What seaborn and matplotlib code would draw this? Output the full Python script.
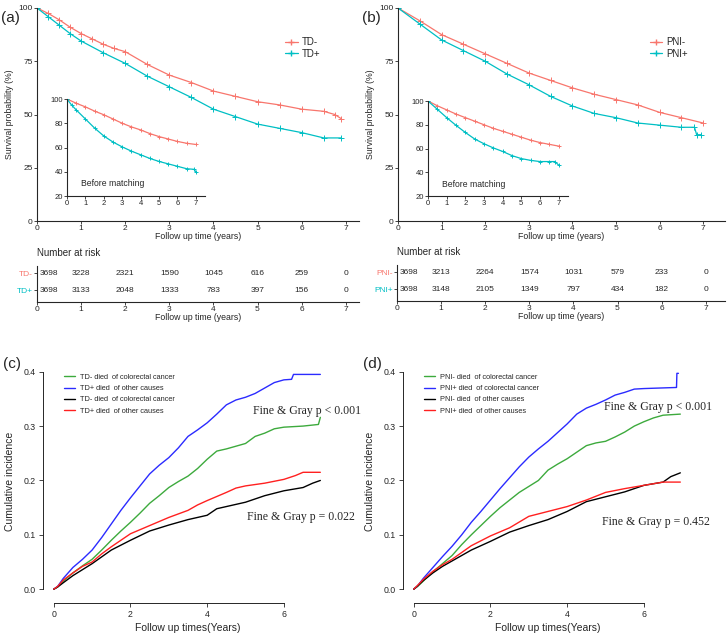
import numpy as np
import pandas as pd
import matplotlib
matplotlib.use('Agg')
import matplotlib.pyplot as plt
from matplotlib.lines import Line2D
import seaborn as sns

sns.set_style('ticks')
plt.rcParams['font.family'] = ['Liberation Sans', 'DejaVu Sans']

# =====================================================
# DATA
# =====================================================

KM_RED = '#F8766D'
KM_TEAL = '#00BFC4'

# (a) TD, after matching
td_neg_t = [0, 0.25, 0.5, 0.75, 1, 1.25, 1.5, 1.75, 2, 2.5, 3, 3.5, 4, 4.5, 5, 5.5, 6, 6.5, 6.75, 6.9]
td_neg_s = [100, 97.5, 94.5, 91, 88, 85.5, 83, 81, 79.5, 73.5, 68.5, 65, 61, 58.5, 56, 54.5, 52.5, 51.5, 50, 48]
td_pos_t = [0, 0.25, 0.5, 0.75, 1, 1.5, 2, 2.5, 3, 3.5, 4, 4.5, 5, 5.5, 6, 6.5, 6.9]
td_pos_s = [100, 96, 92, 88, 84.5, 79, 74, 68, 63, 58, 52.5, 49, 45.5, 43.5, 41.5, 39, 39]

# (a) TD, before matching (inset)
td_neg_pre_t = [0, 0.5, 1, 1.5, 2, 2.5, 3, 3.5, 4, 4.5, 5, 5.5, 6, 6.5, 7]
td_neg_pre_s = [100, 96.5, 93.5, 90, 87, 83.5, 80, 77, 74.5, 71.5, 69, 67, 65, 63.5, 62.5]
td_pos_pre_t = [0, 0.25, 0.5, 1, 1.5, 2, 2.5, 3, 3.5, 4, 4.5, 5, 5.5, 6, 6.5, 6.9, 7]
td_pos_pre_s = [100, 95, 91, 83.5, 76, 69.5, 64.5, 60.5, 57, 54, 51, 48.5, 46.5, 44.5, 42.5, 42, 40]

# (b) PNI, after matching
pni_neg_t = [0, 0.5, 1, 1.5, 2, 2.5, 3, 3.5, 4, 4.5, 5, 5.5, 6, 6.5, 7]
pni_neg_s = [100, 94, 87.5, 83, 78.5, 74, 69.5, 66, 62.5, 59.5, 57, 54.5, 51, 48.5, 46]
pni_pos_t = [0, 0.5, 1, 1.5, 2, 2.5, 3, 3.5, 4, 4.5, 5, 5.5, 6, 6.5, 6.8, 6.85, 6.95]
pni_pos_s = [100, 92.5, 85, 80, 75, 69, 64, 58.5, 54, 50.5, 48.5, 46, 45, 44, 44, 40.5, 40.5]

# (b) PNI, before matching (inset)
pni_neg_pre_t = [0, 0.5, 1, 1.5, 2, 2.5, 3, 3.5, 4, 4.5, 5, 5.5, 6, 6.5, 7]
pni_neg_pre_s = [100, 96, 92.5, 89, 86, 83, 80, 77, 74.5, 72, 69.5, 67, 65, 63.5, 62]
pni_pos_pre_t = [0, 0.5, 1, 1.5, 2, 2.5, 3, 3.5, 4, 4.5, 5, 5.5, 6, 6.5, 6.8, 7]
pni_pos_pre_s = [100, 93, 86, 79.5, 73.5, 68, 64, 60.5, 57.5, 54, 51.5, 50, 49, 49, 49, 46]

# number at risk
risk_times = [0, 1, 2, 3, 4, 5, 6, 7]
risk_td_neg = [3698, 3228, 2321, 1590, 1045, 616, 259, 0]
risk_td_pos = [3698, 3133, 2048, 1333, 783, 397, 156, 0]
risk_pni_neg = [3698, 3213, 2264, 1574, 1031, 579, 233, 0]
risk_pni_pos = [3698, 3148, 2105, 1349, 797, 434, 182, 0]

# (c) cumulative incidence, TD
cif_c_blue_t = [0, 0.1, 0.25, 0.5, 0.75, 1, 1.25, 1.5, 1.75, 2, 2.25, 2.5, 2.75, 3, 3.25, 3.5, 3.75, 4,
                4.25, 4.5, 4.75, 5, 5.25, 5.5, 5.75, 6, 6.2, 6.25, 6.95]
cif_c_blue = [0, 0.005, 0.02, 0.04, 0.055, 0.072, 0.095, 0.12, 0.145, 0.168, 0.19, 0.212, 0.228, 0.242,
              0.26, 0.281, 0.293, 0.306, 0.322, 0.339, 0.348, 0.353, 0.36, 0.37, 0.38, 0.385, 0.386, 0.395,
              0.395]
cif_c_green_t = [0, 0.1, 0.25, 0.5, 0.75, 1, 1.25, 1.5, 1.75, 2, 2.25, 2.5, 2.75, 3, 3.25, 3.5, 3.75, 4,
                 4.25, 4.5, 4.75, 5, 5.25, 5.5, 5.75, 6, 6.5, 6.9, 6.95]
cif_c_green = [0, 0.004, 0.015, 0.03, 0.043, 0.055, 0.072, 0.09, 0.107, 0.123, 0.14, 0.158, 0.172, 0.187,
               0.198, 0.208, 0.222, 0.239, 0.254, 0.258, 0.263, 0.268, 0.281, 0.287, 0.295, 0.298, 0.3,
               0.303, 0.316]
cif_c_red_t = [0, 0.1, 0.25, 0.5, 0.75, 1, 1.25, 1.5, 1.75, 2, 2.5, 3, 3.5, 3.75, 4, 4.5, 4.75, 5, 5.5, 6,
               6.3, 6.5, 6.95]
cif_c_red = [0, 0.005, 0.017, 0.03, 0.042, 0.05, 0.065, 0.078, 0.09, 0.102, 0.117, 0.132, 0.145, 0.155,
             0.163, 0.178, 0.186, 0.19, 0.195, 0.202, 0.209, 0.215, 0.215]
cif_c_black_t = [0, 0.1, 0.25, 0.5, 0.75, 1, 1.5, 2, 2.5, 3, 3.5, 4, 4.25, 4.5, 5, 5.5, 6, 6.5, 6.75, 6.95]
cif_c_black = [0, 0.004, 0.012, 0.025, 0.036, 0.047, 0.072, 0.09, 0.107, 0.118, 0.128, 0.136, 0.148,
               0.152, 0.16, 0.172, 0.181, 0.187, 0.195, 0.2]

# (d) cumulative incidence, PNI
cif_d_blue_t = [0, 0.1, 0.25, 0.5, 0.75, 1, 1.25, 1.5, 1.75, 2, 2.25, 2.5, 2.75, 3, 3.25, 3.5, 3.75, 4,
                4.25, 4.5, 4.75, 5, 5.25, 5.5, 5.75, 6, 6.85, 6.86, 6.9]
cif_d_blue = [0, 0.006, 0.02, 0.04, 0.06, 0.079, 0.1, 0.123, 0.143, 0.164, 0.185, 0.205, 0.225, 0.243,
              0.258, 0.272, 0.288, 0.304, 0.322, 0.333, 0.34, 0.348, 0.357, 0.362, 0.368, 0.369, 0.371,
              0.397, 0.397]
cif_d_green_t = [0, 0.1, 0.25, 0.5, 0.75, 1, 1.25, 1.5, 1.75, 2, 2.25, 2.5, 2.75, 3, 3.25, 3.5, 3.75, 4,
                 4.25, 4.5, 4.75, 5, 5.25, 5.5, 5.75, 6, 6.25, 6.5, 6.95]
cif_d_green = [0, 0.005, 0.015, 0.032, 0.047, 0.062, 0.082, 0.1, 0.117, 0.134, 0.15, 0.164, 0.178, 0.189,
               0.2, 0.219, 0.23, 0.24, 0.252, 0.264, 0.269, 0.272, 0.28, 0.289, 0.3, 0.308, 0.315, 0.32,
               0.322]
cif_d_red_t = [0, 0.1, 0.25, 0.5, 0.75, 1, 1.5, 2, 2.5, 3, 3.5, 4, 4.5, 5, 5.5, 6, 6.5, 6.95]
cif_d_red = [0, 0.007, 0.018, 0.033, 0.045, 0.055, 0.08, 0.098, 0.113, 0.134, 0.143, 0.152, 0.164, 0.178,
             0.185, 0.191, 0.197, 0.197]
cif_d_black_t = [0, 0.1, 0.25, 0.5, 0.75, 1, 1.5, 2, 2.5, 3, 3.5, 4, 4.5, 5, 5.5, 6, 6.5, 6.7, 6.95]
cif_d_black = [0, 0.006, 0.016, 0.03, 0.042, 0.052, 0.072, 0.088, 0.105, 0.117, 0.128, 0.143, 0.161,
               0.17, 0.179, 0.191, 0.197, 0.207, 0.214]

CIF_GREEN = '#3DAA3D'
CIF_BLUE = '#2B2BFF'
CIF_RED = '#FF2020'

# =====================================================
# HELPERS
# =====================================================

def km_curve(ax, t, s, color, ms=4.0, lw=0.9):
    df = pd.DataFrame({'t': t, 's': s})
    sns.lineplot(data=df, x='t', y='s', ax=ax, color=color,
                 estimator=None, sort=False, lw=lw, marker='+', markersize=ms,
                 markeredgewidth=0.7, markeredgecolor=color)


def cif_curve(ax, t, v, color):
    df = pd.DataFrame({'t': t, 'v': v})
    sns.lineplot(data=df, x='t', y='v', ax=ax, color=color,
                 estimator=None, sort=False, lw=1.0)


def km_panel(rect, inset_rect, xmax, neg, pos, neg_pre, pos_pre, labels, letter):
    ax = fig.add_axes(rect)
    km_curve(ax, neg[0], neg[1], KM_RED)
    km_curve(ax, pos[0], pos[1], KM_TEAL)
    ax.set_xlim(0, xmax)
    ax.set_ylim(0, 100)
    ax.set_xticks(range(8))
    ax.set_yticks([0, 25, 50, 75, 100])
    ax.tick_params(labelsize=6, length=2, width=0.6, pad=1)
    ax.set_xlabel('Follow up time (years)', fontsize=6.3, labelpad=0)
    ax.set_ylabel('Survival probability (%)', fontsize=6.3, labelpad=3)
    sns.despine(ax=ax)
    for sp in ax.spines.values():
        sp.set_linewidth(0.8)
    handles = [Line2D([], [], color=KM_RED, marker='+', ms=4, lw=0.9),
               Line2D([], [], color=KM_TEAL, marker='+', ms=4, lw=0.9)]
    ax.legend(handles, labels, loc='upper left', bbox_to_anchor=(0.755, 0.885), frameon=False,
              fontsize=7, handlelength=1.3, handletextpad=0.4, labelspacing=0.15, borderpad=0)
    fig.text(rect[0] - 0.05, rect[1] + rect[3] - 0.005, letter, fontsize=11, va='top', ha='left')

    ins = fig.add_axes(inset_rect)
    km_curve(ins, neg_pre[0], neg_pre[1], KM_RED, ms=3.2)
    km_curve(ins, pos_pre[0], pos_pre[1], KM_TEAL, ms=3.2)
    ins.set_xlim(0, 7.5)
    ins.set_ylim(20, 100)
    ins.set_xticks(range(8))
    ins.set_yticks([20, 40, 60, 80, 100])
    ins.tick_params(labelsize=5.5, length=2, width=0.6, pad=1)
    ins.set_xlabel('')
    ins.set_ylabel('')
    ins.patch.set_alpha(0)
    sns.despine(ax=ins)
    ins.text(0.75, 28, 'Before matching', fontsize=6.2)
    return ax


def risk_table(rect, row_neg, row_pos, labels):
    ax = fig.add_axes(rect)
    ax.set_xlim(0, rect[2] * 728 / 44.1)
    ax.set_ylim(0.3, 2.53)
    for y, row in [(2, row_neg), (1, row_pos)]:
        for x, n in zip(risk_times, row):
            if x == 0:
                ax.text(x + 0.06, y, str(n), fontsize=6, ha='left', va='center')
            else:
                ax.text(x, y, str(n), fontsize=6, ha='center', va='center')
    ax.set_xticks(risk_times)
    ax.set_yticks([2, 1])
    ax.set_yticklabels(labels)
    ax.get_yticklabels()[0].set_color(KM_RED)
    ax.get_yticklabels()[1].set_color(KM_TEAL)
    ax.tick_params(labelsize=6, length=2, width=0.6, pad=1)
    ax.set_xlabel('Follow up time (years)', fontsize=6.3, labelpad=0)
    sns.despine(ax=ax)
    ax.spines['left'].set_bounds(0.3, 2.4)
    for sp in ax.spines.values():
        sp.set_linewidth(0.8)
    fig.text(rect[0], rect[1] + rect[3] + 0.01, 'Number at risk', fontsize=7, va='bottom')
    return ax


def cif_panel(rect, curves, legend_labels, p1, p1_xy, p2, p2_xy, letter):
    ax = fig.add_axes(rect)
    for t, v, c in curves:
        cif_curve(ax, t, v, c)
    ax.set_xlim(-0.28, 7.28)
    ax.set_ylim(-0.018, 0.416)
    ax.set_xticks([0, 2, 4, 6])
    ax.set_yticks([0.0, 0.1, 0.2, 0.3, 0.4])
    ax.set_yticklabels(['0.0', '0.1', '0.2', '0.3', '0.4'], rotation=90, va='center')
    ax.tick_params(labelsize=6.3, length=3, width=0.6, pad=2)
    ax.set_xlabel('Follow up times(Years)', fontsize=7.5, labelpad=3)
    ax.set_ylabel('Cumulative incidence', fontsize=7.5, labelpad=6)
    sns.despine(ax=ax, offset=0)
    ax.spines['left'].set_bounds(0, 0.4)
    ax.spines['bottom'].set_bounds(0, 6)
    ax.spines['bottom'].set_position(('outward', 3))
    for sp in ax.spines.values():
        sp.set_linewidth(0.7)
    handles = [Line2D([], [], color=c, lw=1.0) for _, _, c in curves]
    ax.legend(handles, legend_labels, loc='upper left', bbox_to_anchor=(0.058, 0.97), frameon=False,
              fontsize=5.3, handlelength=1.6, handletextpad=0.6, labelspacing=0.55, borderpad=0)
    ax.text(p1_xy[0], p1_xy[1], p1, fontsize=8.5, family='Liberation Serif', ha='left', va='center')
    ax.text(p2_xy[0], p2_xy[1], p2, fontsize=8.5, family='Liberation Serif', ha='left', va='center')
    fig.text(rect[0] - 0.055, rect[1] + rect[3] + 0.01, letter, fontsize=11, va='top', ha='left')
    return ax


# =====================================================
# FIGURE
# =====================================================

fig = plt.figure(figsize=(7.28, 6.38), dpi=100)

km_panel([37 / 728, 417 / 638, 322 / 728, 213 / 638], [67 / 728, 442 / 638, 138 / 728, 97 / 638], 7.3,
         (td_neg_t, td_neg_s), (td_pos_t, td_pos_s),
         (td_neg_pre_t, td_neg_pre_s), (td_pos_pre_t, td_pos_pre_s), ['TD-', 'TD+'], '(a)')
km_panel([398 / 728, 417 / 638, 327 / 728, 213 / 638], [428 / 728, 442 / 638, 140 / 728, 95 / 638], 7.5,
         (pni_neg_t, pni_neg_s), (pni_pos_t, pni_pos_s),
         (pni_neg_pre_t, pni_neg_pre_s), (pni_pos_pre_t, pni_pos_pre_s), ['PNI-', 'PNI+'], '(b)')

risk_table([37 / 728, 336 / 638, 322 / 728, 38 / 638], risk_td_neg, risk_td_pos, ['TD-', 'TD+'])
risk_table([397 / 728, 337 / 638, 328 / 728, 38 / 638], risk_pni_neg, risk_pni_pos, ['PNI-', 'PNI+'])

cif_panel([43 / 728, 39 / 638, 290 / 728, 236 / 638],
          [(cif_c_green_t, cif_c_green, CIF_GREEN), (cif_c_blue_t, cif_c_blue, CIF_BLUE),
           (cif_c_black_t, cif_c_black, 'black'), (cif_c_red_t, cif_c_red, CIF_RED)],
          ['TD- died  of colorectal cancer', 'TD+ died  of other causes',
           'TD- died  of colorectal cancer', 'TD+ died  of other causes'],
          'Fine & Gray p < 0.001', (5.2, 0.328), 'Fine & Gray p = 0.022', (5.05, 0.133), '(c)')
cif_panel([403 / 728, 39 / 638, 290 / 728, 236 / 638],
          [(cif_d_green_t, cif_d_green, CIF_GREEN), (cif_d_blue_t, cif_d_blue, CIF_BLUE),
           (cif_d_black_t, cif_d_black, 'black'), (cif_d_red_t, cif_d_red, CIF_RED)],
          ['PNI- died  of colorectal cancer', 'PNI+ died  of colorectal cancer',
           'PNI- died  of other causes', 'PNI+ died  of other causes'],
          'Fine & Gray p < 0.001', (4.95, 0.336), 'Fine & Gray p = 0.452', (4.92, 0.124), '(d)')

plt.savefig('out.png', dpi=100)
